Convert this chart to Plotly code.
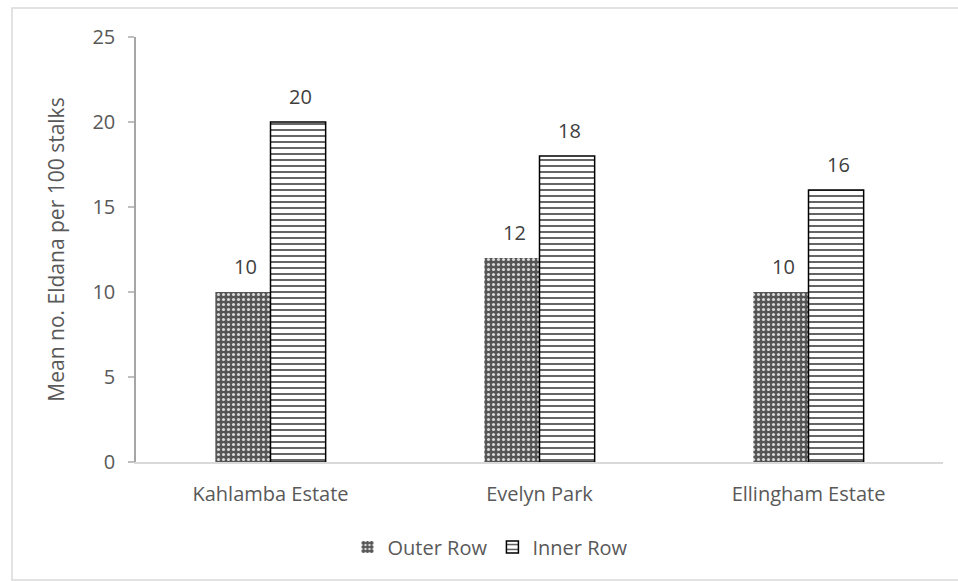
import plotly.graph_objects as go

# Mean Eldana counts per 100 stalks, by estate and row position
estates = ["Kahlamba Estate", "Evelyn Park", "Ellingham Estate"]
outer_row = [10, 12, 10]
inner_row = [20, 18, 16]
y_ticks = [0, 5, 10, 15, 20, 25]

FONT = "Open Sans"
TEXT_GREY = "#595959"

fig = go.Figure()

fig.add_trace(go.Bar(
    name="Outer Row",
    x=estates,
    y=outer_row,
    marker=dict(
        color="#555555",
        line=dict(width=0),
        pattern=dict(shape=".", fgcolor="#d9d9d9", bgcolor="#555555",
                     size=5, solidity=0.3, fillmode="replace"),
    ),
))

fig.add_trace(go.Bar(
    name="Inner Row",
    x=estates,
    y=inner_row,
    marker=dict(
        color="white",
        line=dict(width=1.5, color="black"),
        pattern=dict(shape="-", fgcolor="#555555", bgcolor="white",
                     size=6, solidity=0.3, fillmode="replace"),
    ),
))

# value labels above each bar
bar_px = 55
for series, shift in ((outer_row, -bar_px / 2), (inner_row, bar_px / 2)):
    for cat, val in zip(estates, series):
        fig.add_annotation(
            x=cat, y=val, text=str(val), showarrow=False,
            xanchor="center", yanchor="bottom", xshift=shift + 2, yshift=10,
            font=dict(family=FONT, size=20, color="#404040"),
        )

# light outline around the whole chart area
fig.add_shape(
    type="rect", xref="paper", yref="paper",
    x0=(10 - 134) / 807, x1=(957 - 134) / 807,
    y0=-(580 - 462) / 425, y1=1 + (37 - 8) / 425,
    line=dict(color="#d9d9d9", width=1.5), fillcolor="rgba(0,0,0,0)",
    layer="below",
)

fig.update_layout(
    width=958, height=581,
    margin=dict(l=136, r=15, t=37, b=119, autoexpand=False),
    paper_bgcolor="white", plot_bgcolor="white",
    barmode="group", bargap=0.59, bargroupgap=0,
    font=dict(family=FONT, size=20, color=TEXT_GREY),
    showlegend=True,
    legend=dict(orientation="h", x=0.512, xanchor="center", xref="container",
                y=(581 - 547) / 581, yanchor="middle", yref="container",
                bgcolor="rgba(0,0,0,0)",
                font=dict(family=FONT, size=20, color=TEXT_GREY),
                itemwidth=30, tracegroupgap=0),
    xaxis=dict(
        showline=True, linecolor="#d9d9d9", linewidth=1.5,
        ticks="", showgrid=False, ticklabelstandoff=13,
        tickfont=dict(family=FONT, size=20, color=TEXT_GREY),
    ),
    yaxis=dict(
        range=[0, 25], tickvals=y_ticks,
        showline=True, linecolor="#a6a6a6", linewidth=1.5,
        ticks="outside", ticklen=6, tickcolor="#bfbfbf", tickwidth=1.5,
        showgrid=False, zeroline=False, ticklabelstandoff=9,
        tickfont=dict(family=FONT, size=20, color=TEXT_GREY),
        title=dict(text="Mean no. Eldana per 100 stalks",
                   font=dict(family=FONT, size=21, color=TEXT_GREY),
                   standoff=22),
    ),
)

fig.write_html("out.html")
